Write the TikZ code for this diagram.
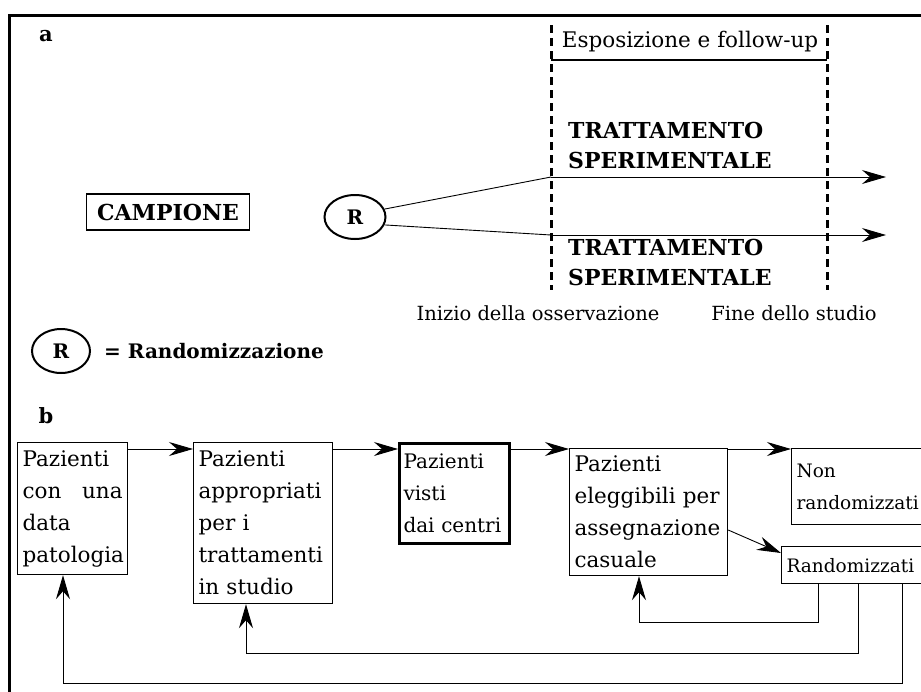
\documentclass[tikz,border=0pt]{standalone}
\usepackage{fontspec}
\setmainfont{DejaVu Serif}
\usetikzlibrary{arrows.meta,shapes.geometric,calc}
\begin{document}
\begin{tikzpicture}[x=1pt,y=-1pt,
  every node/.style={font=\fontsize{19.5}{32}\selectfont, inner sep=0pt},
  small/.style={font=\fontsize{18.5}{32}\selectfont},
  big/.style={font=\fontsize{21.5}{32}\selectfont},
  mid/.style={font=\fontsize{20}{32}\selectfont},
  bf/.style={font=\fontsize{20}{30}\selectfont\bfseries},
  bfbig/.style={font=\fontsize{22}{30}\selectfont\bfseries},
  box/.style={draw, line width=1.2pt, anchor=north west, align=left, inner xsep=5pt},
  tip/.style={line width=0.9pt, -{Stealth[length=24pt,width=14pt,inset=8pt]}},
  dline/.style={line width=3pt, dash pattern=on 8pt off 5pt},
  ell/.style={draw, ellipse, line width=2pt}]
\useasboundingbox (0,0) rectangle (921,691);
\clip (0,0) rectangle (921,691);
\draw[line width=3pt] (9,15) rectangle (960,720);

% part a
\node[font=\fontsize{21}{30}\selectfont\bfseries] (la) at (46,36) {a};
\node[draw, line width=1.2pt, bfbig, minimum width=163pt, minimum height=36pt] (camp) at (168,212) {CAMPIONE};
\node[ell, bf, minimum width=61pt, minimum height=44pt] (R) at (355,217) {R};
\coordinate (s1) at (551,177);
\coordinate (s2) at (551,235);
\coordinate (e1) at (886,177);
\coordinate (e2) at (886,235);
\draw[line width=0.9pt] (R.15) -- (s1);
\draw[line width=0.9pt] (R.-15) -- (s2);
\draw[tip] (s1) -- (e1);
\draw[tip] (s2) -- (e2);
\coordinate (d1t) at (551,25); \coordinate (d1b) at (551,290);
\coordinate (d2t) at (827,25); \coordinate (d2b) at (827,290);
\draw[dline] (d1t) -- (d1b);
\draw[dline] (d2t) -- (d2b);
\coordinate (br1) at (551,60); \coordinate (br2) at (827,60);
\draw[line width=1.2pt] (br1) -- (br2);
\node[big] (expo) at (690,42) {Esposizione e follow-up};
\node[bfbig, anchor=west, align=left] (t1) at (568,145) {TRATTAMENTO\\SPERIMENTALE};
\node[bfbig, anchor=west, align=left] (t2) at (568,262) {TRATTAMENTO\\SPERIMENTALE};
\node (ini) at (538,313) {Inizio della osservazione};
\node (fine) at (794,313) {Fine dello studio};
\node[ell, bf, minimum width=58pt, minimum height=44pt] (Rl) at (61,351) {R};
\node[bf, anchor=west] (rand) at (104,351) {= Randomizzazione};

% part b
\node[font=\fontsize{21}{30}\selectfont\bfseries] (lb) at (46,416) {b};
\node[box, big, text width=100pt, minimum height=132pt] (b1) at (17,442) {Pazienti\\con\hfill una\\data\\patologia};
\node[box, big, text width=129pt, minimum height=161pt] (b2) at (193,442) {Pazienti\\appropriati\\per i\\trattamenti\\in studio};
\node[box, mid, line width=3pt, inner xsep=4pt, text width=102pt, minimum height=100pt] (b3) at (398,442) {Pazienti\\visti\\\mbox{dai centri}};
\node[box, big, text width=148pt, minimum height=127pt] (b4) at (569,448) {Pazienti\\eleggibili per\\\mbox{assegnazione}\\casuale};
\node[box, small, text width=160pt, minimum height=76pt] (b5) at (791,448) {Non\\randomizzati};
\node[box, small, text width=170pt, minimum height=37pt] (b6) at (781,546) {Randomizzati};

\draw[tip] ($(b1.north east)+(0,7)$) -- ($(b2.north west)+(0,7)$);
\draw[tip] ($(b2.north east)+(0,7)$) -- ($(b3.north west)+(0,7)$);
\draw[tip] ($(b3.north east)+(0,7)$) -- ($(b4.north west)+(0,1)$);
\draw[tip] ($(b4.north east)+(0,1)$) -- ($(b5.north west)+(0,1)$);
\draw[tip] ($(b4.north east)+(0,82)$) -- ($(b6.north west)+(0,7)$);
\draw[tip] ($(b6.south west)+(37,0)$) -- ++(0,38) -| ($(b4.south west)+(70,0)$);
\draw[tip] ($(b6.south west)+(77,0)$) -- ++(0,69) -| ($(b2.south west)+(53,0)$);
\draw[tip] ($(b6.south west)+(121,0)$) -- ++(0,99) -| ($(b1.south west)+(46,0)$);
\end{tikzpicture}
\end{document}
